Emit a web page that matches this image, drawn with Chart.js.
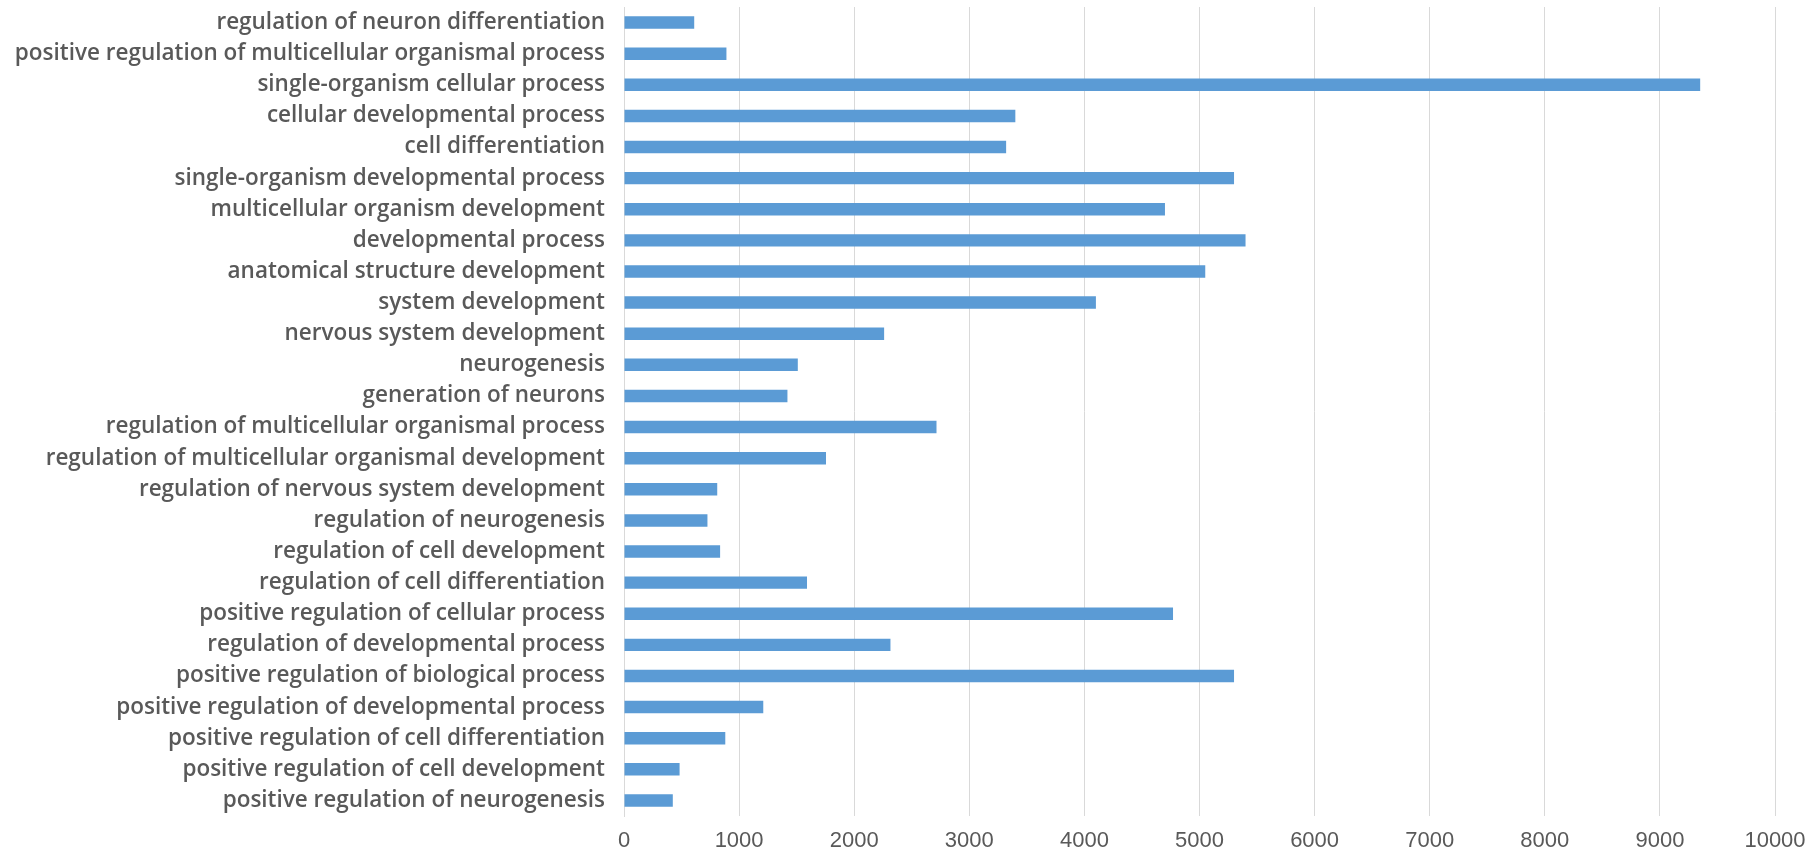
<!DOCTYPE html>
<html>
<head>
<meta charset="utf-8">
<title>GO biological process term counts</title>
<script src="https://cdn.jsdelivr.net/npm/chart.js@4/dist/chart.umd.min.js"></script>
<style>
  html, body { margin: 0; padding: 0; background: #ffffff; }
  #wrap { width: 1815px; height: 854px; }
</style>
</head>
<body>
<div id="wrap"><canvas id="chart" width="1815" height="854"></canvas></div>
<script>
// GO terms, listed top to bottom
const terms = [
  "regulation of neuron differentiation",
  "positive regulation of multicellular organismal process",
  "single-organism cellular process",
  "cellular developmental process",
  "cell differentiation",
  "single-organism developmental process",
  "multicellular organism development",
  "developmental process",
  "anatomical structure development",
  "system development",
  "nervous system development",
  "neurogenesis",
  "generation of neurons",
  "regulation of multicellular organismal process",
  "regulation of multicellular organismal development",
  "regulation of nervous system development",
  "regulation of neurogenesis",
  "regulation of cell development",
  "regulation of cell differentiation",
  "positive regulation of cellular process",
  "regulation of developmental process",
  "positive regulation of biological process",
  "positive regulation of developmental process",
  "positive regulation of cell differentiation",
  "positive regulation of cell development",
  "positive regulation of neurogenesis"
];

// gene counts per term
const counts = [
  610, 890, 9350, 3400, 3320, 5300, 4700, 5400, 5050, 4100,
  2260, 1510, 1420, 2715, 1755, 810, 725, 835, 1590, 4770,
  2315, 5300, 1210, 880, 483, 424
];

// value axis
const axisMin = 0;
const axisMax = 10000;
const axisStep = 1000;

const grey = "#595959";
const gridGrey = "#d9d9d9";

new Chart(document.getElementById("chart"), {
  type: "bar",
  data: {
    labels: terms,
    datasets: [{
      data: counts,
      backgroundColor: "#5b9bd5",
      borderWidth: 0,
      categoryPercentage: 1.0,
      barPercentage: 0.4
    }]
  },
  options: {
    indexAxis: "y",
    responsive: false,
    animation: false,
    devicePixelRatio: 1,
    layout: { padding: { top: 7, right: 40, bottom: 0, left: 0 } },
    plugins: {
      legend: { display: false },
      tooltip: { enabled: false }
    },
    scales: {
      x: {
        min: axisMin,
        max: axisMax,
        ticks: {
          stepSize: axisStep,
          color: grey,
          padding: 12,
          callback: (v) => String(v),
          font: { family: "'Liberation Sans', Arial, sans-serif", size: 22 }
        },
        grid: { color: gridGrey, lineWidth: 1, drawTicks: false },
        border: { display: false },
        afterFit: (s) => { s.height = 38; s.paddingLeft = 0; s.paddingRight = 0; }
      },
      y: {
        ticks: {
          color: grey,
          padding: 19,
          autoSkip: false,
          font: { family: "'Open Sans', sans-serif", size: 22.5, weight: "600" }
        },
        grid: { display: false, drawTicks: false },
        border: { display: true, color: gridGrey, width: 1 },
        afterFit: (s) => { s.width = 624; s.paddingTop = 0; s.paddingBottom = 0; }
      }
    }
  }
});
</script>
</body>
</html>
